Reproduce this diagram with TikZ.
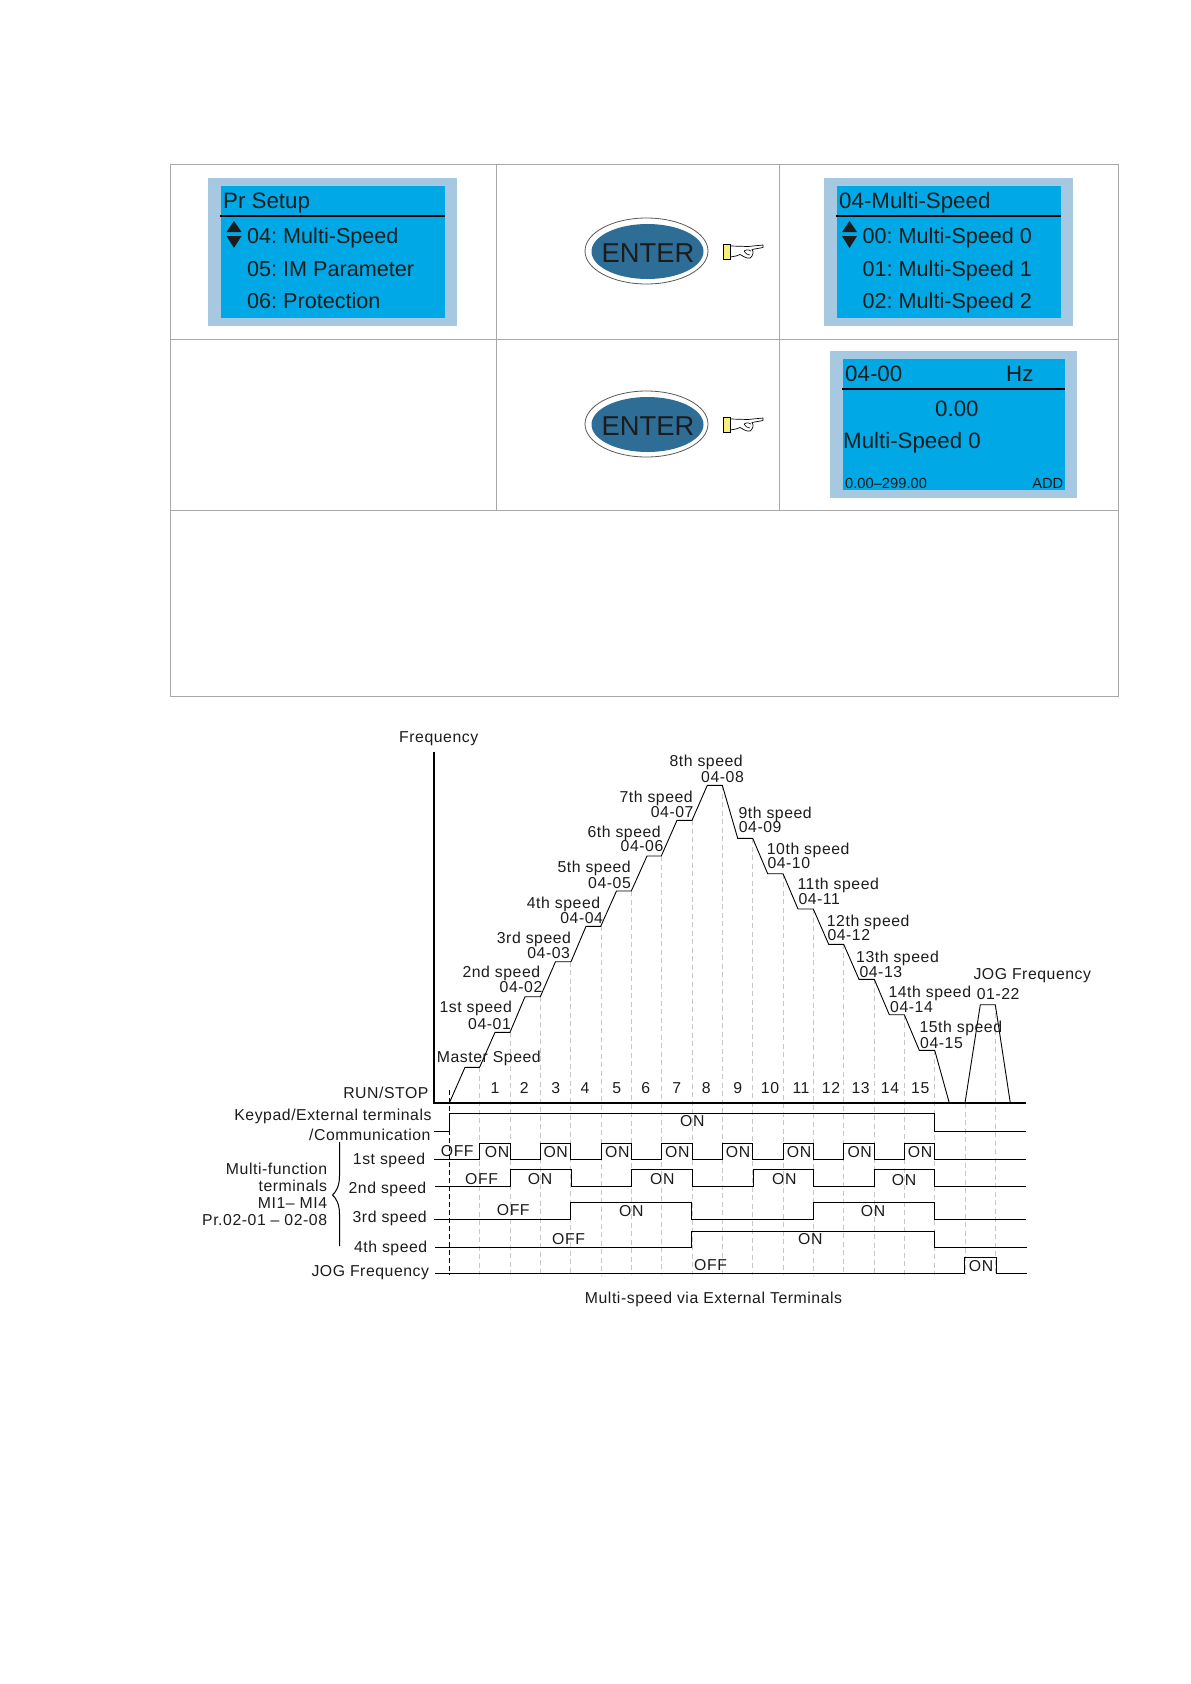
\documentclass[tikz,border=0pt]{standalone}
\usepackage{fontspec}
\setmainfont{Liberation Sans}
\newfontfamily\chartfont[LetterSpace=3.5]{Liberation Sans}
\frenchspacing
\definecolor{lcdout}{HTML}{A6C8E0}
\definecolor{lcdin}{HTML}{00A9E6}
\definecolor{gridc}{HTML}{A8A8A8}
\definecolor{btn}{HTML}{2E6E96}
\definecolor{ink}{HTML}{1C1C1C}
\definecolor{hand}{HTML}{F4F07A}
\newcounter{lb}
\tikzset{
  x=1pt,y=-1pt,
  cell/.style={draw=gridc,line width=1pt},
  lcdtxt/.style={inner sep=0,anchor=base west,text=ink,font=\fontsize{22.3}{24}\selectfont\frenchspacing},
  lcdlist/.style={inner sep=0,anchor=base west,text=ink,font=\fontsize{21.6}{24}\selectfont\frenchspacing},
  lcdsmall/.style={inner sep=0,text=ink,font=\fontsize{14.7}{16}\selectfont},
  chartw/.style={inner sep=0,anchor=base west,text=ink,font=\chartfont\fontsize{15.8}{17}\selectfont\frenchspacing},
  charte/.style={inner sep=0,anchor=base east,text=ink,font=\chartfont\fontsize{15.8}{17}\selectfont\frenchspacing},
  chartc/.style={inner sep=0,anchor=base,text=ink,font=\chartfont\fontsize{15.8}{17}\selectfont},
  sig/.style={draw=black,line width=1pt,line join=miter},
  gridd/.style={draw=black!22,line width=.8pt,dash pattern=on 5pt off 3.5pt},
  tri/.style={fill=ink,draw=none},
}
\newcommand\LW[3]{\stepcounter{lb}\node[chartw] (lb\thelb) at (#1,#2) {#3};}
\newcommand\LE[3]{\stepcounter{lb}\node[charte] (lb\thelb) at (#1,#2) {#3};}
\newcommand\LC[3]{\stepcounter{lb}\node[chartc] (lb\thelb) at (#1,#2) {#3};}
\newcommand\LT[3]{\stepcounter{lb}\node[lcdtxt] (lb\thelb) at (#1,#2) {#3};}
\newcommand\LL[3]{\stepcounter{lb}\node[lcdlist] (lb\thelb) at (#1,#2) {#3};}
\newcommand\UpDown[1]{%
  \fill[tri] (#1-7.5,232) -- (#1,221) -- (#1+7.5,232) -- cycle;
  \fill[tri] (#1-7.5,236) -- (#1,248) -- (#1+7.5,236) -- cycle;}
\newcommand\EnterBtn[1]{%
  \begin{scope}[shift={(0,#1)}]
  \draw[draw=black!65,fill=white,line width=.8pt] (646.5,251) ellipse [x radius=61.5,y radius=33];
  \fill[btn] (647.5,251.5) ellipse [x radius=56,y radius=27.5];
  \stepcounter{lb}\node[inner sep=0,anchor=base,text=ink,font=\fontsize{27.3}{28}\selectfont] (lb\thelb) at (648,262) {ENTER};
  \draw[fill=hand,draw=black,line width=.7pt] (723.3,244) rectangle (730.5,259);
  \draw[fill=white,draw=black,line width=.7pt,line join=round]
    (730.5,246) -- (748,246.5) -- (763,245) -- (763,247.5) -- (752,249.5)
    .. controls (754,252) and (753,256) .. (750,258)
    .. controls (747,259) and (743,256) .. (740,254.5)
    -- (736,256) -- (730.5,257) -- cycle;
  \draw[draw=black,line width=.6pt] (744,251) .. controls (747,249) and (750,250) .. (751,251)
     (744,251) .. controls (746,254) and (748,255) .. (750,255);
  \end{scope}}
\begin{document}
\begin{tikzpicture}
\useasboundingbox (0,0) rectangle (1191,1684);
\fill[white] (0,0) rectangle (1191,1684);
% --- table ---
\draw[cell] (170,164.5) rectangle (1118,696);
\draw[cell] (170,339.5) -- (1118,339.5);
\draw[cell] (170,510.5) -- (1118,510.5);
\draw[cell] (496.5,164.5) -- (496.5,510.5);
\draw[cell] (779.5,164.5) -- (779.5,510.5);
% --- LCD 1 ---
\fill[lcdout] (208,178) rectangle (457,326);
\fill[lcdin] (221,186) rectangle (445,318);
\draw[black,line width=1.6pt] (220,216) -- (445,216);
\LT{223}{208}{Pr Setup}
\LL{247}{243}{04: Multi-Speed}
\LL{247}{276}{05: IM Parameter}
\LL{247}{308}{06: Protection}
\UpDown{234}
% --- LCD 2 ---
\fill[lcdout] (824,178) rectangle (1073,326);
\fill[lcdin] (837,186) rectangle (1061,318);
\draw[black,line width=1.6pt] (836,216) -- (1061,216);
\LT{839}{208}{04-Multi-Speed}
\LL{862.5}{243}{00: Multi-Speed 0}
\LL{862.5}{276}{01: Multi-Speed 1}
\LL{862.5}{308}{02: Multi-Speed 2}
\UpDown{849.5}
% --- LCD 3 ---
\fill[lcdout] (830,351) rectangle (1077,498);
\fill[lcdin] (843,359) rectangle (1065,490);
\draw[black,line width=1.6pt] (842,389) -- (1065,389);
\LT{845}{381}{04-00}
\LT{1006}{381}{Hz}
\LT{935}{416}{0.00}
\LT{843}{448}{Multi-Speed 0}
\stepcounter{lb}\node[lcdsmall,anchor=base west] (lb\thelb) at (845,488) {0.00–299.00};
\stepcounter{lb}\node[lcdsmall,anchor=base east] (lb\thelb) at (1063.5,488) {ADD};
% --- ENTER buttons ---
\EnterBtn{0}
\EnterBtn{173}
% --- chart: dashed guides ---
\foreach \k/\top in {1/1067.3,2/1032.3,3/996.7,4/961.7,5/926.3,6/891,7/856,8/820.3,9/785.3,10/838.3,11/873.7,12/909,13/944.3,14/979.3,15/1014.7,16/1050.3,17/1103,18/1004.7}{
  \draw[gridd] ({449.3+30.34*\k},\top) -- ({449.3+30.34*\k},1275);
}
\draw[black,line width=.8pt,dash pattern=on 5pt off 3pt] (449.3,1090) -- (449.3,1275);
% axes
\draw[black,line width=1.7pt] (434.3,752) -- (434.3,1103) -- (1026,1103);
% speed profile
\draw[sig,line width=.9pt] (449.3,1103) -- (465,1067.3) -- (479.6,1067.3) -- (495,1032.3) -- (510,1032.3)
  -- (525,996.7) -- (540.3,996.7) -- (555.5,961.7) -- (571,961.7) -- (586,926.3) -- (600.7,926.3)
  -- (616.5,891) -- (631.3,891) -- (647,856) -- (661.3,856) -- (677,820.3) -- (692,820.3)
  -- (707.3,785.3) -- (722.3,785.3) -- (737.7,838.3) -- (752.7,838.3) -- (767.7,873.7) -- (783,873.7)
  -- (798,909) -- (813.3,909) -- (828.7,944.3) -- (843.7,944.3) -- (859,979.3) -- (874.3,979.3)
  -- (889.3,1014.7) -- (904.3,1014.7) -- (919.3,1050.3) -- (934.7,1050.3) -- (949.3,1103);
\draw[sig,line width=.9pt] (965,1103) -- (980.3,1004.7) -- (995.3,1004.7) -- (1010.3,1103);
% timing rows
\draw[sig] (434,1131.7) -- (449.3,1131.7) -- (449.3,1113.3) -- (934.6,1113.3) -- (934.6,1131.7) -- (1026,1131.7);
\draw[sig] (434,1159.3) -- (479.6,1159.3) -- (479.6,1143.3) -- (510,1143.3) -- (510,1159.3)
  -- (540.3,1159.3) -- (540.3,1143.3) -- (570.7,1143.3) -- (570.7,1159.3) -- (601,1159.3) -- (601,1143.3)
  -- (631.3,1143.3) -- (631.3,1159.3) -- (661.7,1159.3) -- (661.7,1143.3) -- (692,1143.3) -- (692,1159.3)
  -- (722.4,1159.3) -- (722.4,1143.3) -- (752.7,1143.3) -- (752.7,1159.3) -- (783,1159.3) -- (783,1143.3)
  -- (813.4,1143.3) -- (813.4,1159.3) -- (843.7,1159.3) -- (843.7,1143.3) -- (874.1,1143.3) -- (874.1,1159.3)
  -- (904.4,1159.3) -- (904.4,1143.3) -- (934.7,1143.3) -- (934.7,1159.3) -- (1026,1159.3);
\draw[sig] (435,1186.3) -- (510.3,1186.3) -- (510.3,1169.3) -- (571,1169.3) -- (571,1186.3) -- (631.3,1186.3)
  -- (631.3,1169.3) -- (692,1169.3) -- (692,1186.3) -- (753,1186.3) -- (753,1169.3) -- (813,1169.3)
  -- (813,1186.3) -- (874.3,1186.3) -- (874.3,1169.3) -- (934.7,1169.3) -- (934.7,1186.3) -- (1026,1186.3);
\draw[sig] (434,1219.3) -- (570.7,1219.3) -- (570.7,1202.3) -- (691.7,1202.3) -- (691.7,1219.3) -- (813.3,1219.3)
  -- (813.3,1202.3) -- (934.5,1202.3) -- (934.5,1219.3) -- (1026,1219.3);
\draw[sig] (435,1247.3) -- (691.7,1247.3) -- (691.7,1231.3) -- (934.5,1231.3) -- (934.5,1247.3) -- (1027,1247.3);
\draw[sig] (435,1273.3) -- (964.5,1273.3) -- (964.5,1257.3) -- (996.3,1257.3) -- (996.3,1273.3) -- (1027,1273.3);
% brace
\draw[black,line width=1pt] (339.5,1142) -- (339.5,1176) .. controls (339.5,1186) and (336,1192) .. (332.5,1195)
  .. controls (336,1198) and (339.5,1204) .. (339.5,1214) -- (339.5,1246);
% --- chart labels ---
\LW{399}{742}{Frequency}
\LW{669.3}{766}{8th speed}\LW{701}{782.3}{04-08}
\LW{619.3}{802}{7th speed}\LW{650.7}{817}{04-07}
\LW{587.3}{837}{6th speed}\LW{620.5}{851.7}{04-06}
\LW{557.3}{872.3}{5th speed}\LW{588}{888.3}{04-05}
\LW{526.7}{908.3}{4th speed}\LW{560.2}{923.3}{04-04}
\LW{496.7}{943.3}{3rd speed}\LW{527.2}{958}{04-03}
\LW{462.3}{977.7}{2nd speed}\LW{499.5}{992.7}{04-02}
\LW{439.3}{1012.7}{1st speed}\LW{468}{1029.3}{04-01}
\LW{436.7}{1062.7}{Master Speed}
\LW{738.3}{818}{9th speed}\LW{738.7}{832.7}{04-09}
\LW{766.7}{854.5}{10th speed}\LW{767.3}{868.3}{04-10}
\LW{797.3}{889.5}{11th speed}\LW{798.3}{904.3}{04-11}
\LW{826.7}{926.3}{12th speed}\LW{827.3}{940}{04-12}
\LW{856}{962.7}{13th speed}\LW{859.3}{977}{04-13}
\LW{888.3}{997.3}{14th speed}\LW{890}{1012.7}{04-14}
\LW{919.3}{1032.3}{15th speed}\LW{920}{1048}{04-15}
\LW{973.3}{979}{JOG Frequency}\LW{976.7}{999.3}{01-22}
\foreach \n/\x in {1/495,2/524.3,3/555.7,4/585,5/616.7,6/645.7,7/676.7,8/706.3,9/737.7,10/770,11/801,12/831,13/860.7,14/890,15/920.3}{
  \LC{\x}{1093.3}{\n}
}
\LE{428.7}{1098.3}{RUN/STOP}
\LE{431.7}{1120}{Keypad/External terminals}
\LE{430.7}{1140.7}{/Communication}
\LE{425.5}{1164.3}{1st speed}
\LE{426.5}{1193.3}{2nd speed}
\LE{427}{1222.7}{3rd speed}
\LE{427.5}{1252}{4th speed}
\LE{429.3}{1276.7}{JOG Frequency}
\LE{327.3}{1174}{Multi-function}
\LE{327.3}{1191}{terminals}
\LE{327.3}{1208.7}{MI1– MI4}
\LE{327.3}{1225.7}{Pr.02-01 – 02-08}
\LW{680}{1126}{ON}
\LW{440.7}{1156}{OFF}
\foreach \x in {484.7,543.3,605,665,725.7,786.7,847.3,907.7}{\LW{\x}{1157.7}{ON}}
\LW{465}{1184}{OFF}\LW{527.7}{1184}{ON}\LW{650}{1184}{ON}\LW{772}{1184}{ON}\LW{891.7}{1185}{ON}
\LW{496.7}{1215}{OFF}\LW{619}{1216.7}{ON}\LW{860.7}{1216.7}{ON}
\LW{552}{1244.7}{OFF}\LW{798}{1244.7}{ON}
\LW{694}{1270.7}{OFF}\LW{968.7}{1271.7}{ON}
\LW{584.7}{1303.3}{Multi-speed via External Terminals}
\end{tikzpicture}
\end{document}
